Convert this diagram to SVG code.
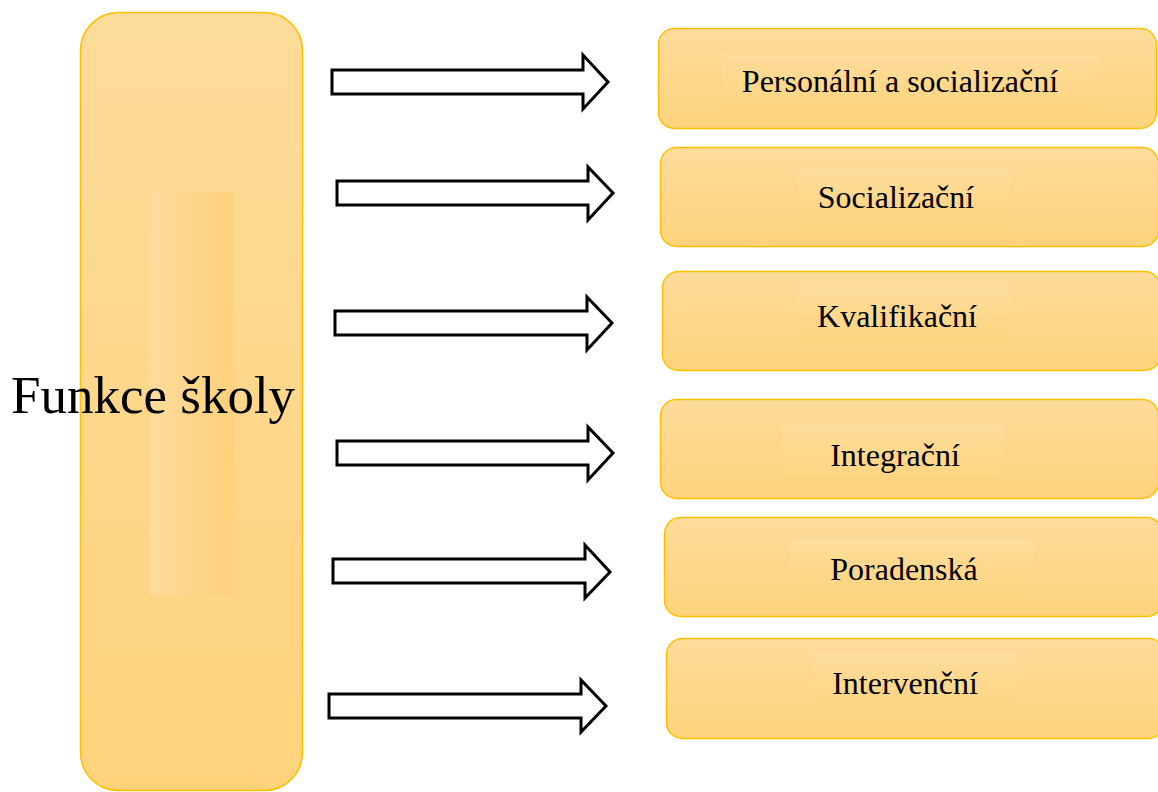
<svg xmlns="http://www.w3.org/2000/svg" width="1158" height="792" viewBox="0 0 1158 792">
  <defs>
    <linearGradient id="boxFill" x1="0" y1="0" x2="0" y2="1">
      <stop offset="0" stop-color="#FDDB9A"/>
      <stop offset="1" stop-color="#FED37C"/>
    </linearGradient>
    <linearGradient id="labelFill" x1="0" y1="0" x2="0" y2="1">
      <stop offset="0" stop-color="#FDDC9C"/>
      <stop offset="1" stop-color="#FED47F"/>
    </linearGradient>
    <linearGradient id="stripFill" x1="0" y1="0" x2="1" y2="0">
      <stop offset="0" stop-color="#FDDB9C"/>
      <stop offset="1" stop-color="#FED17A"/>
    </linearGradient>
    <style>
      .box { fill: url(#boxFill); stroke: #FFC000; stroke-width: 1.5; }
      .label-bg { fill: url(#labelFill); }
      .label { font-family: "Liberation Serif", "Times New Roman", serif; font-size: 32px; fill: #000; text-anchor: middle; }
      .title { font-family: "Liberation Serif", "Times New Roman", serif; font-size: 53px; fill: #000; }
      .arrow { fill: #fff; stroke: #000; stroke-width: 3; stroke-linejoin: miter; }
    </style>
  </defs>

  <!-- main block -->
  <g id="funkce-skoly">
    <rect class="box" x="80.5" y="12.5" width="222" height="778" rx="38"/>
    <rect x="150" y="192" width="83" height="403" fill="url(#stripFill)"/>
    <text class="title" x="11" y="413">Funkce školy</text>
  </g>

  <!-- connectors -->
  <g id="connectors">
    <path class="arrow" d="M332,70 H583 V55 L608,82 L583,109 V94 H332 Z"/>
    <path class="arrow" d="M337,181 H588 V167 L613,193 L588,220 V205 H337 Z"/>
    <path class="arrow" d="M335,311 H587 V297 L612,323 L587,350 V335 H335 Z"/>
    <path class="arrow" d="M337,441 H588 V427 L613,453 L588,480 V465 H337 Z"/>
    <path class="arrow" d="M333,559 H585 V545 L610,572 L585,598 V583 H333 Z"/>
    <path class="arrow" d="M329,694 H581 V680 L606,706 L581,732 V718 H329 Z"/>
  </g>

  <!-- function boxes -->
  <g id="personalni">
    <rect class="box" x="658.5" y="28.5" width="498" height="100" rx="16"/>
    <rect class="label-bg" x="722" y="52" width="375" height="58"/>
    <text class="label" x="900" y="92">Personální a socializační</text>
  </g>
  <g id="socializacni">
    <rect class="box" x="660.5" y="147.5" width="498" height="99" rx="16"/>
    <rect class="label-bg" x="798" y="168" width="212" height="57"/>
    <text class="label" x="896" y="208">Socializační</text>
  </g>
  <g id="kvalifikacni">
    <rect class="box" x="662.5" y="271.5" width="498" height="99" rx="16"/>
    <rect class="label-bg" x="798" y="287" width="212" height="56"/>
    <text class="label" x="897" y="327">Kvalifikační</text>
  </g>
  <g id="integracni">
    <rect class="box" x="660.5" y="399.5" width="498" height="99" rx="16"/>
    <rect class="label-bg" x="783" y="424" width="220" height="57"/>
    <text class="label" x="895" y="466">Integrační</text>
  </g>
  <g id="poradenska">
    <rect class="box" x="664.5" y="517.5" width="498" height="99" rx="16"/>
    <rect class="label-bg" x="790" y="538" width="244" height="57"/>
    <text class="label" x="904" y="580">Poradenská</text>
  </g>
  <g id="intervencni">
    <rect class="box" x="666.5" y="638.5" width="498" height="100" rx="16"/>
    <rect class="label-bg" x="812" y="653" width="203" height="60"/>
    <text class="label" x="905" y="694">Intervenční</text>
  </g>
</svg>
